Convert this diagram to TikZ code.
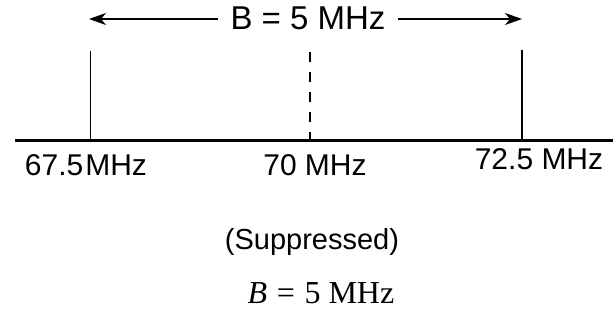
\documentclass[tikz,border=0pt]{standalone}
\usepackage{fontspec}
\setmainfont{Liberation Sans}
\newfontfamily\serifmath{Liberation Serif}
\usetikzlibrary{arrows.meta}
\begin{document}
\begin{tikzpicture}[x=1pt, y=-1pt]
    % Styles
    \tikzstyle{label} = [font=\fontsize{30}{34}\selectfont, inner sep=0pt, anchor=base]
    \tikzstyle{carrier} = [line width=1.6pt]
    \tikzstyle{axis} = [line width=2.2pt]
    \tikzstyle{arrow} = [line width=1.3pt, -{Stealth[length=17pt, width=12pt, inset=5pt]}]
    \useasboundingbox (0,0) rectangle (613,321);

    % Nodes
    \coordinate (axisl) at (15,140.5);
    \coordinate (axisr) at (613,140.5);
    \coordinate (lowtop) at (90.5,51);
    \coordinate (lowbot) at (90.5,140.5);
    \coordinate (midtop) at (310,52);
    \coordinate (midbot) at (310,140.5);
    \coordinate (hightop) at (522,50);
    \coordinate (highbot) at (522,140.5);
    \coordinate (bwl) at (89,19);
    \coordinate (bwr) at (522,19);
    \node [label, font=\fontsize{33}{36}\selectfont] (bw) at (308,30) {B = 5 MHz};
    \node [label] (low) at (86,175) {67.5\hspace{2pt}MHz};
    \node [label] (mid) at (315,175) {70 MHz};
    \node [label] (high) at (539,169) {72.5 MHz};
    \node [label, font=\fontsize{29}{33}\selectfont] (supp) at (312,249) {(Suppressed)};
    \node [label, font=\serifmath\fontsize{32}{36}\selectfont] (band) at (321,303) {\textit{B}\hspace{.3em}=\hspace{.3em}5 MHz};

    % Lines
    \draw [axis] (axisl) -- (axisr);
    \draw [carrier] (lowtop) -- (lowbot);
    \draw [carrier, dash pattern=on 10pt off 10pt] (midtop) -- (midbot);
    \draw [carrier] (hightop) -- (highbot);

    % Arrows
    \draw [arrow] ([xshift=-12pt]bw.west |- bwl) -- (bwl);
    \draw [arrow] ([xshift=12pt]bw.east |- bwr) -- (bwr);
\end{tikzpicture}
\end{document}
